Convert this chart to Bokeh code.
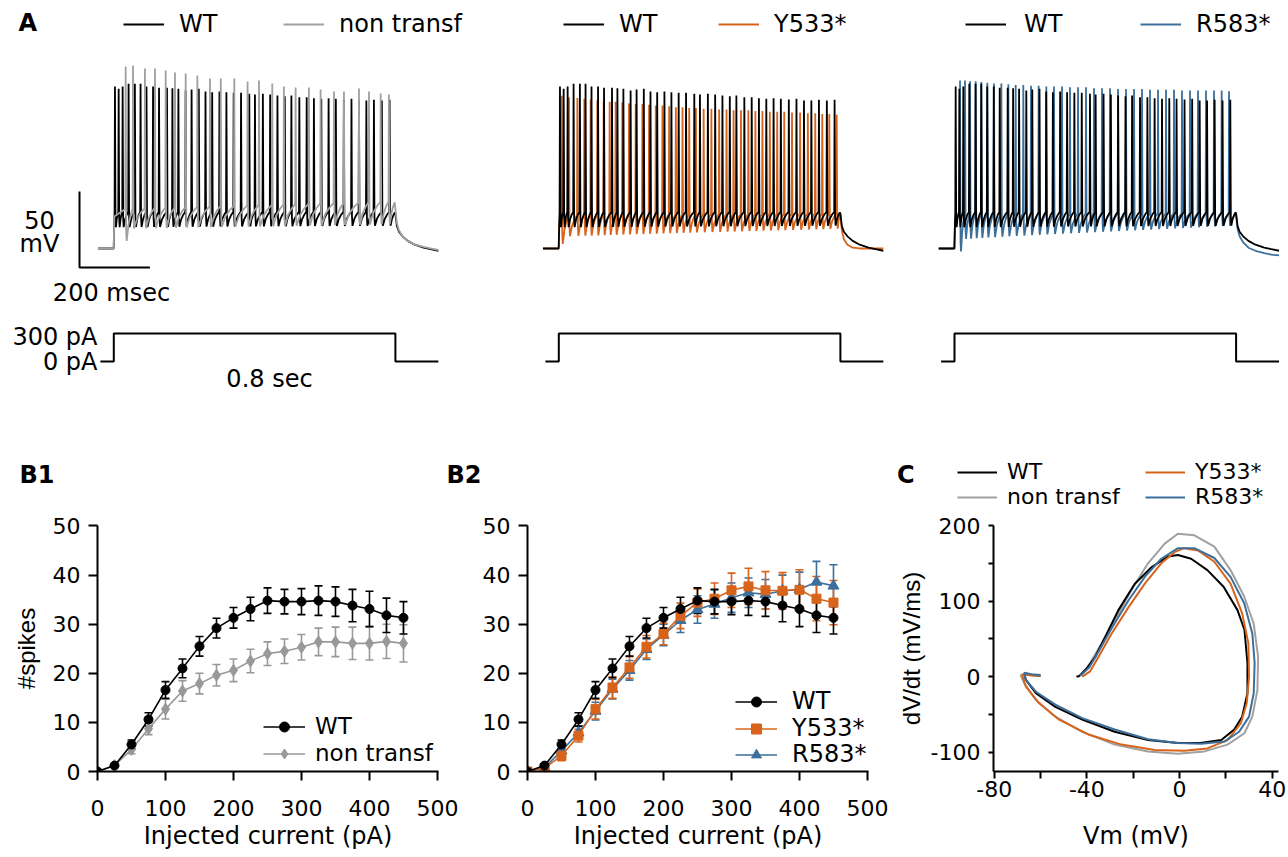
import math
from bokeh.plotting import figure
from bokeh.models import (Range1d, FixedTicker, Label, Legend, LegendItem,
                          ColumnDataSource, Whisker, TeeHead)
from bokeh.layouts import row, column
from bokeh.embed import file_html
from bokeh.resources import INLINE

FONT = "DejaVu Sans"
FONT_V = "Liberation Sans"
BLACK = "#000000"
GRAY = "#a0a0a0"
GRAY_B = "#999999"
ORANGE = "#d8641b"
BLUE = "#3d6f9b"

# ---------------- Panel A data (example traces, 300 pA, 0.8 s step) ----------------
STEP_AMP = 300          # pA
STEP_END = 800          # ms
step_t = [-38, 0, 0, STEP_END, STEP_END, 922]
step_i = [0, 0, STEP_AMP, STEP_AMP, 0, 0]
SCALE_MS = 200
SCALE_MV = 50

wt_spk_t = [2.8, 13.3, 24.6, 41.5, 59.4, 75.5, 92.4, 111, 128, 150.6, 166, 183, 203.5, 220.5,
            241, 260, 279, 299.6, 319.4, 340, 361, 384.4, 400.5, 423, 443.7, 464.4, 485.3, 504,
            526.6, 547.5, 568, 589, 609.7, 630.3, 653, 674.7, 696, 717, 738.5, 761, 783]
wt_spk_pk = [36.6, 35.1, 36.6, 38.4, 38.4, 38.4, 36.6, 36.6, 35.7, 35.7, 35.5, 35.1, 33.9, 34.6,
             35.1, 33.3, 32.8, 33.3, 32.8, 32.4, 32.4, 31.8, 31.3, 31.8, 31.3, 30.7, 30.2, 30.7,
             29.5, 29.5, 28.9, 28.5, 28.9, 28.5, 28.0, 28.5, 27.4, 27.4, 27.8, 27.4, 27.8]

nt_spk_t = [33.2, 54, 88, 116.5, 146.9, 173.3, 203.7, 236.9, 272.7, 303.4, 341.8, 379.5, 412,
            449.7, 482.7, 516, 553.8, 587, 625, 653.4, 696, 724.4, 757.7, 781]
nt_spk_pk = [49.7, 50.4, 48.4, 48.4, 47.1, 45.8, 45.1, 43.8, 41.8, 41.8, 41.8, 39.9, 40.5, 38.6,
             36.6, 35.9, 35.9, 34.6, 33.3, 33.3, 35.3, 33.3, 32.0, 31.3]

y533_spk_t = [8, 28.4, 52.3, 72, 90, 109, 127, 144, 161, 180, 199, 218, 237, 256, 275, 294, 313,
              332, 351, 370, 389, 411, 433, 455, 476, 496, 517, 538, 558, 578, 599, 620, 640, 662,
              685, 707, 728, 748, 768, 789]
y533_spk_pk = [30.5, 29.5, 29, 28.5, 28, 27.5, 27, 26.5, 26.5, 26, 25.5, 25, 25, 24.5, 24, 24, 23.5,
               23, 23, 22.5, 22.5, 22, 22, 21.5, 21.5, 21, 21, 21, 20.5, 20.5, 20, 20, 20, 19.5,
               19.5, 19, 19, 18.5, 18.5, 18]

r583_spk_t = [15.2, 29.4, 43.6, 59.7, 75.8, 92.8, 111.8, 132.6, 152.5, 173.3, 195, 216.9, 238.6,
              260.4, 282.2, 304.9, 327.6, 350.4, 373.1, 395.8, 418.6, 441.3, 464, 486.7, 509.5,
              532.2, 554.9, 577.7, 600.4, 623.1, 645.8, 668.6, 691.3, 714, 736.7, 758.5, 779.4]
r583_spk_pk = [40.5, 40.5, 40, 40, 39.5, 39, 38.5, 38.5, 38, 37.5, 37.5, 37, 37, 36.5, 36.5, 36.5,
               36, 36, 36, 35.5, 35.5, 35.5, 35, 35, 35, 35, 34.5, 34.5, 34.5, 34.5, 34, 34, 34,
               34, 34, 34, 33.5]

# threshold start/end, first AHP, AHP start/end (mV)
wt_levels = (-46, -46, -56, -56, -55)
nt_levels = (-44, -39, -65, -57, -54)
y533_levels = (-48, -47, -67, -62, -57)
r583_levels = (-47, -47, -72, -64, -55)

decay_t = [0, 4, 10, 20, 35, 55, 80, 100, 122]
wt_decay = [-47, -55, -59, -62, -65, -67.5, -69.5, -70.5, -71.5]
nt_decay = [-44, -53, -58, -62, -65, -67.5, -69, -70, -71]
y533_decay = [-48, -58, -64, -67.5, -69.5, -70, -70, -70, -70]
r583_decay = [-48, -57, -62, -66, -69.5, -71.5, -73, -74, -74.5]
REST = -70

# ---------------- Panel B data ----------------
current = [0, 25, 50, 75, 100, 125, 150, 175, 200, 225, 250, 275, 300, 325, 350, 375, 400, 425, 450]
wt_mean = [0, 1.2, 5.5, 10.6, 16.6, 21.0, 25.5, 29.2, 31.3, 33.1, 34.8, 34.6, 34.6, 34.8, 34.6, 33.8, 33.1, 31.8, 31.3]
wt_sem = [0, 0.3, 0.9, 1.35, 1.7, 1.9, 2.0, 2.0, 2.1, 2.4, 2.6, 2.5, 2.65, 3.0, 3.0, 3.3, 3.6, 3.5, 3.3]
nt_mean = [0, 1.2, 4.5, 8.7, 12.7, 16.4, 17.9, 19.6, 20.6, 22.5, 24.0, 24.5, 25.3, 26.4, 26.4, 26.1, 26.1, 26.5, 26.1]
nt_sem = [0, 0.3, 0.9, 1.2, 2.0, 2.1, 2.1, 2.2, 2.3, 2.4, 2.4, 2.5, 2.6, 2.8, 3.0, 3.3, 3.4, 3.5, 3.8]
y533_mean = [0, 0.7, 3.2, 7.3, 12.7, 17.1, 21.2, 25.4, 28.0, 31.7, 34.4, 35.2, 36.9, 37.7, 36.9, 36.8, 37.0, 35.2, 34.4]
y533_sem = [0, 0.3, 1.0, 1.3, 2.0, 2.2, 2.2, 2.3, 2.2, 2.6, 2.8, 3.2, 3.5, 3.7, 3.8, 3.7, 4.1, 4.5, 4.5]
r583_mean = [0, 0.8, 4.2, 7.9, 12.3, 16.8, 20.6, 24.9, 27.8, 30.8, 33.0, 34.1, 35.4, 36.4, 36.1, 36.8, 37.1, 38.6, 37.8]
r583_sem = [0, 0.3, 0.9, 1.3, 1.8, 2.0, 2.0, 2.1, 2.2, 2.5, 2.8, 2.9, 3.0, 3.0, 3.0, 3.2, 3.5, 4.2, 4.3]
x_ticks_b = [0, 100, 200, 300, 400, 500]
y_ticks_b = [0, 10, 20, 30, 40, 50]

# ---------------- Panel C data (phase plots) ----------------
wt_vm = [-44.5, -43.6, -40, -36.4, -32, -26.4, -19.3, -12, -5, -0.7, 5, 12, 19, 25, 28, 29.3, 29.3, 27,
         23.6, 18, 9, -0.7, -13.6, -28, -42, -53.6, -62, -66.4, -67, -65, -60]
wt_dv = [0.5, 0, 11, 26, 53, 88, 123, 145, 159, 161, 156, 141, 119, 88, 62, 18, -22, -53, -70, -84,
         -88, -88, -84, -73, -57, -40, -22, -4, 4, 2, 1]
nt_vm = [-42.5, -38.6, -33.6, -27.9, -20.7, -13.6, -6.4, -0.7, 6.4, 15, 22, 27.9, 32, 33.9, 33.6,
         31.4, 28, 20.7, 10.7, -0.7, -13.6, -28, -42, -53.6, -62, -67, -68.6, -67, -64]
nt_dv = [1, 18, 44, 75, 115, 150, 176, 189, 187, 172, 141, 106, 70, 26, -18, -53, -75, -90, -99,
         -102, -99, -90, -73, -53, -31, -9, 2, 4, 3]
y533_vm = [-42, -38.6, -35, -29.3, -22, -15, -7.9, -2, 2, 8, 15, 22, 27, 29.7, 30, 29, 26.4, 20.7,
           12, 2, -10.7, -25, -39, -52, -60.7, -66.4, -67.9, -66, -60]
y533_dv = [0, 7, 26, 57, 92, 123, 150, 165, 170, 167, 152, 123, 84, 44, 0, -35, -62, -84, -95, -98,
           -97, -90, -77, -57, -35, -13, 2, 2, 1]
r583_vm = [-42.9, -39, -35, -29.3, -22, -15, -7.9, -0.7, 6.4, 15, 22, 27.9, 31.4, 32.4, 32, 30,
           25.7, 19.3, 9.3, -0.7, -13.6, -28, -42, -53.6, -62, -66.4, -67, -64, -60]
r583_dv = [1, 12, 33, 64, 101, 132, 156, 170, 170, 157, 132, 97, 57, 18, -22, -53, -73, -86, -89,
           -88, -83, -70, -55, -37, -20, -4, 5, 3, 2]
x_ticks_c = [-80, -60, -40, -20, 0, 20, 40]
y_ticks_c = [-100, -50, 0, 50, 100, 150, 200]


def build_trace(spk_t, spk_pk, levels, decay_v):
    thr0, thr1, ahp_first, ahp0, ahp1 = levels
    t = [-45.0, -0.3, 1.5]
    v = [REST, REST, thr0 - 5]
    n = len(spk_t)
    for i in range(n):
        f = i / (n - 1)
        thr = thr0 + (thr1 - thr0) * f
        ahp = ahp_first if i == 0 else ahp0 + (ahp1 - ahp0) * f
        ts = spk_t[i]
        nxt = spk_t[i + 1] if i < n - 1 else STEP_END
        gap = max(nxt - ts - 4.0, 0.5)
        t += [ts - 0.6, ts + 0.5, ts + 2.0, ts + 3.4]
        v += [thr, spk_pk[i], ahp + 6, ahp]
        for a, b in ((0.3, 0.5), (0.65, 0.8), (0.92, 0.96)):
            t.append(ts + 3.4 + a * gap)
            v.append(ahp + b * (thr - ahp))
    for dt, dv in zip(decay_t, decay_v):
        t.append(STEP_END + dt)
        v.append(dv)
    return t, v


def label(p, x, y, text, size=24, font=FONT, align="left", baseline="middle", style="normal"):
    p.add_layout(Label(x=x, y=y, x_units="screen", y_units="screen", text=text,
                       text_font=font, text_font_size=f"{size}px", text_font_style=style,
                       text_align=align, text_baseline=baseline, text_color="black"))


def legend(p, renderers, text, vx, vy, size=24, glyph_w=41, standoff=15, glyph_h=14):
    lg = Legend(items=[LegendItem(label=text, renderers=renderers)], location=(vx, vy),
                orientation="vertical", padding=0, spacing=0, margin=0,
                border_line_color=None, background_fill_alpha=0, inactive_fill_alpha=0,
                glyph_width=glyph_w, glyph_height=glyph_h, label_height=14, label_standoff=standoff,
                label_text_font=FONT, label_text_font_size=f"{size}px", label_text_color="black")
    p.add_layout(lg, "center")


# ---------------- Top row ----------------
PX_MS = 0.352
TOP_H = 510


def trace_fig(width, onset_px):
    x0 = -onset_px / PX_MS
    x1 = (width - onset_px) / PX_MS
    p = figure(width=width, height=TOP_H, x_range=Range1d(x0, x1), y_range=Range1d(-242.4, 93.16),
               x_axis_type=None, y_axis_type=None, toolbar_location=None, output_backend="svg",
               min_border=0, min_border_left=0, min_border_right=0, min_border_top=0,
               min_border_bottom=0, outline_line_color=None)
    p.extra_y_ranges = {"pA": Range1d(-1596.4, 3868)}
    p.line(step_t, step_i, y_range_name="pA", line_color=BLACK, line_width=2)
    return p


wt_t, wt_v = build_trace(wt_spk_t, wt_spk_pk, wt_levels, wt_decay)
nt_t, nt_v = build_trace(nt_spk_t, nt_spk_pk, nt_levels, nt_decay)
y5_t, y5_v = build_trace(y533_spk_t, y533_spk_pk, y533_levels, y533_decay)
r5_t, r5_v = build_trace(r583_spk_t, r583_spk_pk, r583_levels, r583_decay)

# panel A1 (also hosts the B1 / B2 letters)
f1 = trace_fig(496, 113.3)
r_wt1 = f1.line(wt_t, wt_v, line_color=BLACK, line_width=1.8)
r_nt1 = f1.line(nt_t, nt_v, line_color=GRAY, line_width=1.8)
sb_x0, sb_y0 = -97.4, -82.5
f1.line([sb_x0, sb_x0, sb_x0 + SCALE_MS], [sb_y0 + SCALE_MV, sb_y0, sb_y0],
        line_color=BLACK, line_width=2)
legend(f1, [r_wt1], "WT", 123, 472)
legend(f1, [r_nt1], "non transf", 283, 472)
label(f1, 18, 488, "A", size=24, style="bold")
label(f1, 39, 291, "50", align="center")
label(f1, 39, 267, "mV", align="center")
label(f1, 111, 218, f"{SCALE_MS} msec", align="center")
label(f1, 97, 174, f"{STEP_AMP} pA", align="right")
label(f1, 97, 149, "0 pA", align="right")
label(f1, 269, 132, f"{STEP_END / 1000:.1f} sec", align="center")
label(f1, 19, 36, "B1", size=24, style="bold")
label(f1, 446, 36, "B2", size=24, style="bold")

# panel A2
f2 = trace_fig(400, 62.3)
r_y2 = f2.line(y5_t, y5_v, line_color=ORANGE, line_width=1.8)
r_wt2 = f2.line(wt_t, wt_v, line_color=BLACK, line_width=1.8)
legend(f2, [r_wt2], "WT", 67, 472)
legend(f2, [r_y2], "Y533*", 222, 472)

# panel A3 (also hosts the C letter and the legend of panel C)
f3 = trace_fig(391, 58)
r_r3 = f3.line(r5_t, r5_v, line_color=BLUE, line_width=1.8)
r_wt3 = f3.line(wt_t, wt_v, line_color=BLACK, line_width=1.8)
legend(f3, [r_wt3], "WT", 69, 472, standoff=18)
legend(f3, [r_r3], "R583*", 244, 472)
label(f3, 0.5, 36, "C", size=24, style="bold")
# legend proxies of panel C (hidden copies of the phase-plot lines)
pc_wt = f3.line(wt_vm, wt_dv, line_color=BLACK, line_width=2, visible=False)
pc_nt = f3.line(nt_vm, nt_dv, line_color=GRAY, line_width=2, visible=False)
pc_y = f3.line(y533_vm, y533_dv, line_color=ORANGE, line_width=2, visible=False)
pc_r = f3.line(r583_vm, r583_dv, line_color=BLUE, line_width=2, visible=False)
legend(f3, [pc_wt], "WT", 61, 26, size=22, glyph_w=40, standoff=10)
legend(f3, [pc_nt], "non transf", 61, 1, size=22, glyph_w=40, standoff=10)
legend(f3, [pc_y], "Y533*", 249, 26, size=22, glyph_w=40, standoff=10)
legend(f3, [pc_r], "R583*", 249, 1, size=22, glyph_w=40, standoff=10)


# ---------------- Bottom row ----------------
BOT_H = 346


def style_axis(ax, ticks, tick_out, standoff, overrides=None):
    ax.ticker = FixedTicker(ticks=ticks)
    ax.axis_line_width = 2
    ax.axis_line_color = BLACK
    ax.major_tick_line_width = 2
    ax.major_tick_line_color = BLACK
    ax.major_tick_out = tick_out
    ax.major_tick_in = 0
    ax.minor_tick_out = 0
    ax.minor_tick_in = 0
    ax.major_label_text_font = FONT
    ax.major_label_text_font_size = "22px"
    ax.major_label_text_color = BLACK
    ax.major_label_standoff = standoff
    if overrides:
        ax.major_label_overrides = overrides


def axis_title(ax, text, font, standoff):
    ax.axis_label = text
    ax.axis_label_text_font = font
    ax.axis_label_text_font_size = "24px"
    ax.axis_label_text_font_style = "normal"
    ax.axis_label_text_color = BLACK
    ax.axis_label_standoff = standoff


def b_fig(width, left, right):
    p = figure(width=width, height=BOT_H, x_range=Range1d(0, 501.5), y_range=Range1d(0, 50.1),
               toolbar_location=None, output_backend="svg", min_border_left=left,
               min_border_right=right, min_border_top=14, min_border_bottom=85,
               outline_line_color=None)
    p.grid.visible = False
    style_axis(p.xaxis[0], x_ticks_b, 9, 19)
    style_axis(p.yaxis[0], y_ticks_b, 9, 8)
    axis_title(p.xaxis[0], "Injected current (pA)", FONT, 3)
    return p


def series(p, mean, sem, color, marker, size):
    idx = [i for i in range(len(current)) if sem[i] > 0]
    src = ColumnDataSource(dict(x=[current[i] for i in idx],
                                upper=[mean[i] + sem[i] for i in idx],
                                lower=[mean[i] - sem[i] for i in idx]))
    p.add_layout(Whisker(source=src, base="x", upper="upper", lower="lower", dimension="height",
                         line_color=color, line_width=1.6,
                         upper_head=TeeHead(size=8, line_color=color, line_width=1.6),
                         lower_head=TeeHead(size=8, line_color=color, line_width=1.6)))
    ln = p.line(current, mean, line_color=color, line_width=1.6)
    sc = p.scatter(current, mean, marker=marker, size=size, fill_color=color, line_color=color)
    return [ln, sc]


b1 = b_fig(468, 97, 30)
axis_title(b1.yaxis[0], "#spikes", FONT_V, 10)
r_nt = series(b1, nt_mean, nt_sem, GRAY_B, "diamond", 12)
r_wt = series(b1, wt_mean, wt_sem, BLACK, "circle", 9)
legend(b1, r_wt, "WT", 166, 32, size=23, glyph_w=42, standoff=10, glyph_h=25)
legend(b1, r_nt, "non transf", 166, 5, size=23, glyph_w=42, standoff=10, glyph_h=25)

b2 = b_fig(426, 59, 26)
r_r = series(b2, r583_mean, r583_sem, BLUE, "triangle", 11)
r_y = series(b2, y533_mean, y533_sem, ORANGE, "square", 9)
r_w2 = series(b2, wt_mean, wt_sem, BLACK, "circle", 9)
legend(b2, r_w2, "WT", 208, 56, size=24, glyph_w=42, standoff=15, glyph_h=25)
legend(b2, r_y, "Y533*", 208, 29, size=24, glyph_w=42, standoff=15, glyph_h=25)
legend(b2, r_r, "R583*", 208, 3, size=24, glyph_w=42, standoff=15, glyph_h=25)

c = figure(width=393, height=BOT_H, x_range=Range1d(-80.3, 42.7), y_range=Range1d(-125.6, 200),
           toolbar_location=None, output_backend="svg", min_border_left=97, min_border_right=9,
           min_border_top=15, min_border_bottom=84, outline_line_color=None)
c.grid.visible = False
style_axis(c.xaxis[0], x_ticks_c, 7, 2, {-80: "-80", -60: "", -40: "-40", -20: "", 20: ""})
style_axis(c.yaxis[0], y_ticks_c, 5, 8, {-100: "-100", -50: "", 50: "", 150: ""})
axis_title(c.xaxis[0], "Vm (mV)", FONT, 22)
axis_title(c.yaxis[0], "dV/dt (mV/ms)", FONT_V, 3)
c.line(nt_vm, nt_dv, line_color=GRAY, line_width=2)
c.line(wt_vm, wt_dv, line_color=BLACK, line_width=2)
c.line(y533_vm, y533_dv, line_color=ORANGE, line_width=2)
c.line(r583_vm, r583_dv, line_color=BLUE, line_width=2)

layout = column(row(f1, f2, f3), row(b1, b2, c))
open("out.html", "w").write(file_html(layout, INLINE))
